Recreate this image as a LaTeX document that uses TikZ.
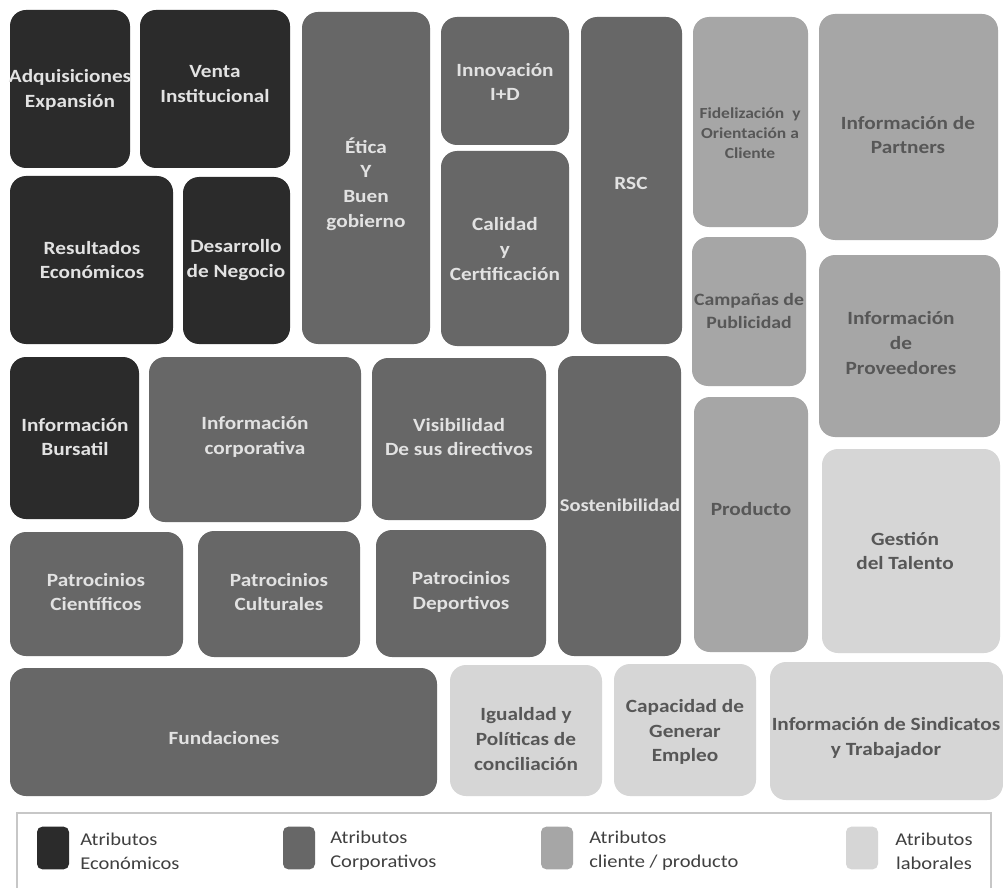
\documentclass[tikz,border=0pt]{standalone}
\usepackage{fontspec}
\setmainfont{Carlito}[FakeStretch=1.14]
\usepackage{tikz}
\usetikzlibrary{positioning}

\definecolor{econfill}{HTML}{2B2B2B}
\definecolor{corpfill}{HTML}{676767}
\definecolor{clientfill}{HTML}{A6A6A6}
\definecolor{laborfill}{HTML}{D6D6D6}
\definecolor{lighttxt}{HTML}{E2E2E2}
\definecolor{darktxt}{HTML}{575757}
\definecolor{legendtxt}{HTML}{404040}

\tikzset{
    tilebox/.style={rounded corners=12pt, inner sep=0pt, outer sep=0pt},
    tiletext/.style={align=center, inner sep=0pt, font=\bfseries\fontsize{14}{18.5}\selectfont},
    econ/.style={fill=econfill, text=lighttxt},
    corp/.style={fill=corpfill, text=lighttxt},
    client/.style={fill=clientfill, text=darktxt},
    labor/.style={fill=laborfill, text=darktxt},
    smalltext/.style={font=\bfseries\fontsize{11.5}{15}\selectfont},
    swatch/.style={rounded corners=4pt, minimum width=24pt, minimum height=32pt, inner sep=0pt},
    legendtext/.style={align=left, inner sep=0pt, text=legendtxt, font=\fontsize{13.5}{18}\selectfont}
}

% name, style, x0, y0, x1, y1, text centre, text
\newcommand{\tile}[8]{%
    \node[tilebox, #2, minimum width={(#5-#3)*0.75pt}, minimum height={(#6-#4)*0.75pt}]
        (#1) at ({(#3+#5)/2},{(#4+#6)/2}) {};
    \node[tiletext, #2, fill=none] (#1-txt) at (#7) {#8};
}

\begin{document}
\begin{tikzpicture}[x=0.75pt, y=-0.75pt]
    \useasboundingbox (0,0) rectangle (1003,888);
    \fill[white] (0,0) rectangle (1003,888);

    % Economic attributes
    \tile{adq}{econ}{10}{10}{130}{168}{70,90}{Adquisiciones\\Expansión}
    \tile{venta}{econ}{140}{10}{290}{168}{215,84}{Venta\\Institucional}
    \tile{result}{econ}{10}{176}{173}{344}{92,260}{Resultados\\Económicos}
    \tile{desarr}{econ}{183}{177}{290}{344}{236,260}{Desarrollo\\de Negocio}
    \tile{bursatil}{econ}{10}{357}{139}{519}{75,437}{Información\\Bursatil}

    % Corporate attributes
    \tile{etica}{corp}{302}{12}{430}{344}{366,184}{Ética\\Y\\Buen\\gobierno}
    \tile{innov}{corp}{441}{17}{569}{145}{505,82}{Innovación\\I+D}
    \tile{calidad}{corp}{441}{151}{569}{346}{505,249}{Calidad\\y\\Certificación}
    \tile{rsc}{corp}{581}{17}{682}{344}{631,183}{RSC}
    \tile{corporat}{corp}{149}{357}{361}{522}{255,437}{Información\\corporativa}
    \tile{visib}{corp}{372}{358}{546}{520}{459,437}{Visibilidad\\De sus directivos}
    \tile{sosten}{corp, font=\bfseries\fontsize{13.5}{18}\selectfont}{558}{356}{681}{656}{620,505}{Sostenibilidad}
    \tile{cient}{corp}{10}{532}{183}{656}{96,592}{Patrocinios\\Científicos}
    \tile{cult}{corp}{198}{531}{360}{657}{279,592}{Patrocinios\\Culturales}
    \tile{deport}{corp}{376}{530}{546}{657}{461,592}{Patrocinios\\Deportivos}
    \tile{fund}{corp}{10}{668}{437}{796}{224,738}{Fundaciones}

    % Client / product attributes
    \tile{fidel}{client, smalltext}{693}{17}{808}{227}{750,133}{Fidelización\ \ y\\Orientación a\\Cliente}
    \tile{partners}{client}{819}{14}{998}{240}{908,135}{Información de\\Partners}
    \tile{campanas}{client, font=\bfseries\fontsize{13}{17}\selectfont}{692}{237}{806}{386}{749,311}{Campañas de\\Publicidad}
    \tile{proveed}{client}{819}{255}{1000}{437}{901,343}{Información\\de\\Proveedores}
    \tile{producto}{client}{694}{397}{808}{652}{751,509}{Producto}

    % Labour attributes
    \tile{gestion}{labor}{822}{449}{1000}{653}{905,551}{Gestión\\del Talento}
    \tile{igual}{labor}{450}{665}{602}{796}{526,739}{Igualdad y\\Políticas de\\conciliación}
    \tile{capac}{labor}{614}{664}{756}{796}{685,732}{Capacidad de\\Generar\\Empleo}
    \tile{sindic}{labor}{770}{662}{1003}{800}{886,738}{Información de Sindicatos\\y Trabajador}

    % Legend
    \draw[draw=black!22, line width=1pt] (17,892) -- (17,813) -- (991,813) -- (991,892);
    \node[swatch, fill=econfill] (sw-econ) at (53,848) {};
    \node[swatch, fill=corpfill] (sw-corp) at (299,848) {};
    \node[swatch, fill=clientfill] (sw-client) at (557,848) {};
    \node[swatch, fill=laborfill] (sw-labor) at (862,848) {};
    \node[legendtext, anchor=west] (lg-econ) at (80,851) {Atributos\\Económicos};
    \node[legendtext, anchor=west] (lg-corp) at (330,851) {Atributos\\Corporativos};
    \node[legendtext, anchor=west] (lg-client) at (589,851) {Atributos\\cliente / producto};
    \node[legendtext, align=center] (lg-labor) at (934,851) {Atributos\\laborales};
\end{tikzpicture}
\end{document}
